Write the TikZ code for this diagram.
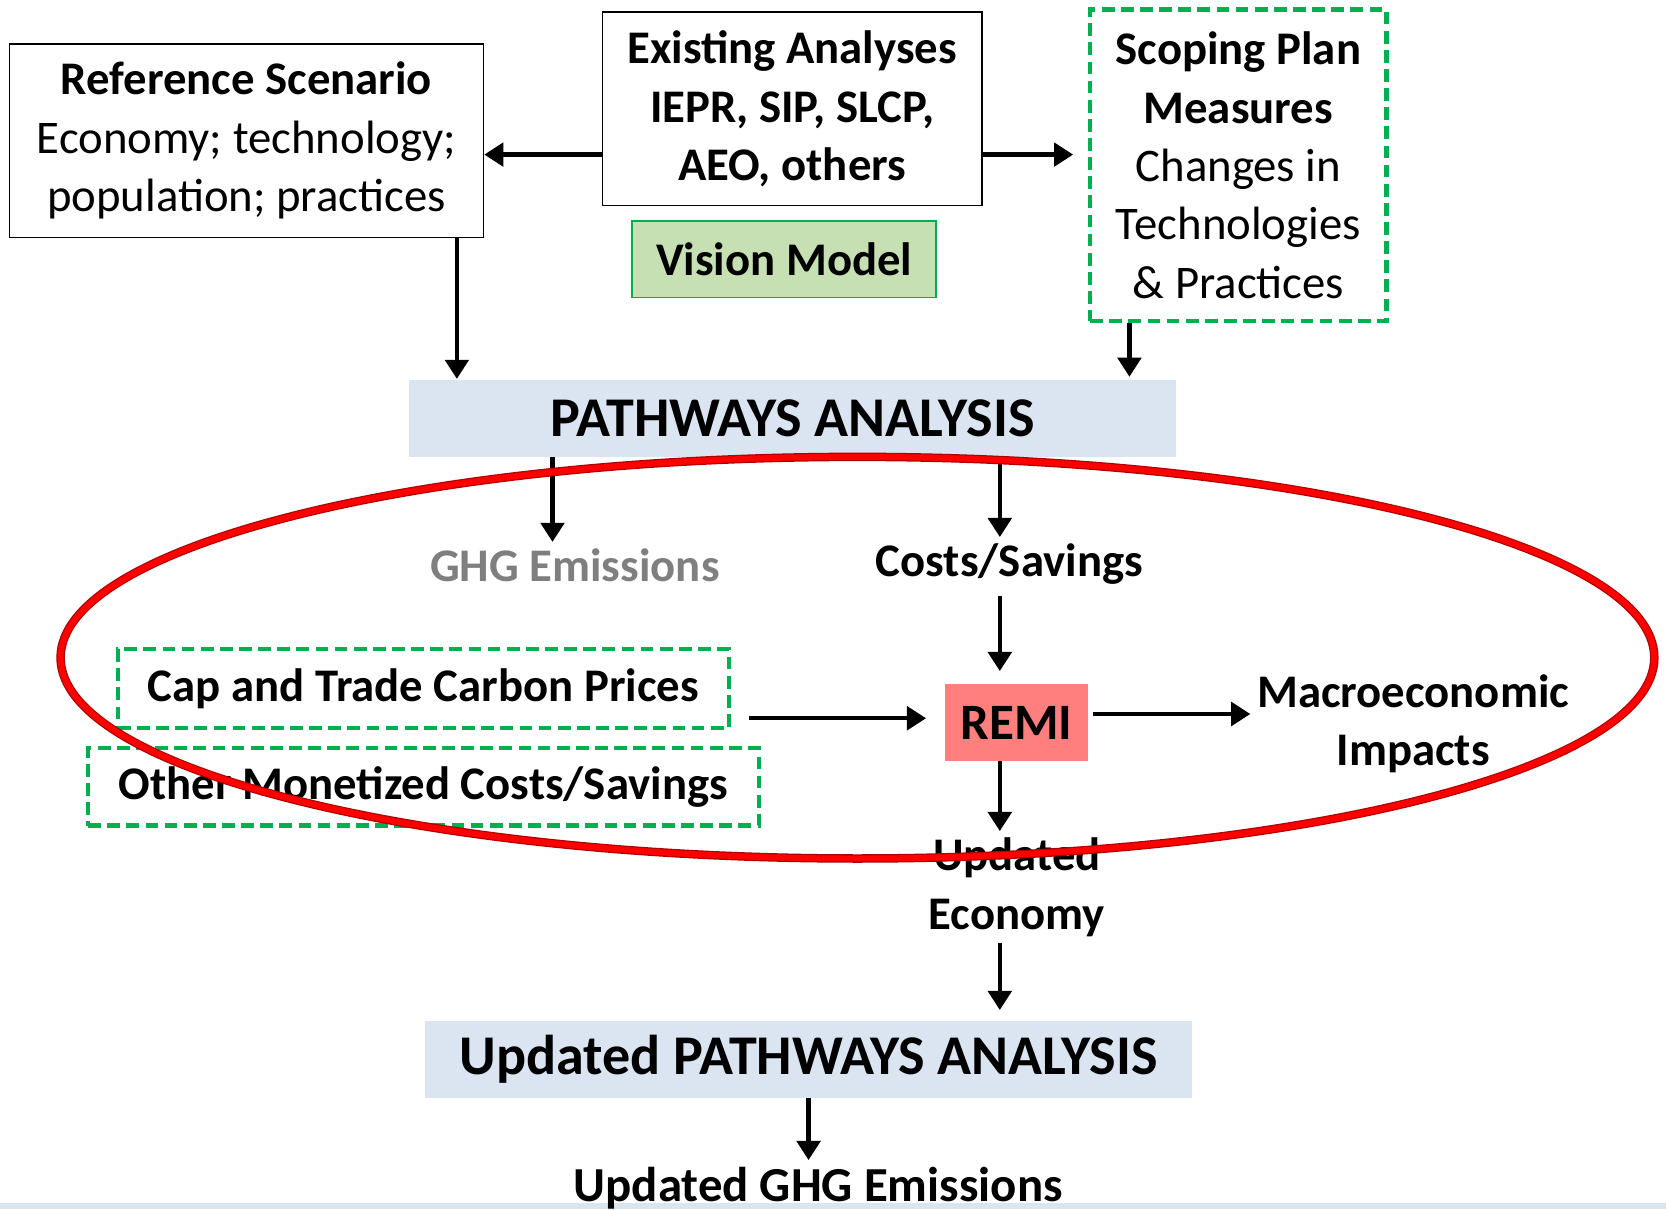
\documentclass[tikz,border=0pt]{standalone}
\usepackage{fontspec}
\setmainfont{Carlito}
\usetikzlibrary{arrows.meta}
\definecolor{planGreen}{HTML}{00B050}
\definecolor{visionFill}{HTML}{C6E0B4}
\definecolor{pathBlue}{HTML}{DBE5F1}
\definecolor{remiRed}{HTML}{FF7F7F}
\definecolor{ghgGray}{HTML}{7F7F7F}
\definecolor{ringDark}{HTML}{B00000}
\begin{document}
\begin{tikzpicture}[x=0.5pt,y=-0.5pt,
    txt/.style={font=\fontsize{22}{27.5}\selectfont, align=center, inner sep=3pt},
    plainbox/.style={txt, draw, line width=0.8pt, inner sep=0pt},
    planbox/.style={txt, draw=planGreen, line width=2pt, dash pattern=on 6pt off 3pt, inner sep=0pt},
    pathbox/.style={fill=pathBlue, inner sep=0pt, minimum width=361pt, minimum height=36pt,
      font=\fontsize{26.4}{31}\selectfont\bfseries},
    arr/.style={line width=2pt, -{Triangle[length=9pt,width=11pt]}}]
    % background strip
    \useasboundingbox (0,0) rectangle (1568,1138);
    \fill[pathBlue] (0,1132) rectangle (1568,1138);

    % top row
    \node[plainbox, minimum width=223pt, minimum height=91pt] (ref) at (232,132.5)
      {\textbf{Reference Scenario}\\Economy; technology;\\population; practices};
    \node[plainbox, font=\fontsize{22}{27.5}\selectfont\bfseries, minimum width=178.5pt, minimum height=91pt] (exist) at (745.5,102.5)
      {Existing Analyses\\IEPR, SIP, SLCP,\\AEO, others};
    \node[txt, font=\fontsize{22}{27.5}\selectfont\bfseries, fill=visionFill, draw=planGreen, line width=0.8pt,
      inner sep=0pt, minimum width=143pt, minimum height=36pt] (vision) at (738,244) {Vision Model};
    \node[planbox, minimum width=139.5pt, minimum height=146.5pt] (scope) at (1165.5,155.5)
      {\textbf{Scoping Plan}\\\textbf{Measures}\\Changes in\\Technologies\\\& Practices};

    % pathways
    \node[pathbox] (path) at (746,394) {PATHWAYS ANALYSIS};
    \node[txt, font=\fontsize{22}{27.5}\selectfont\bfseries, text=ghgGray] (ghg) at (541,532) {GHG Emissions};
    \node[txt, font=\fontsize{22}{27.5}\selectfont\bfseries] (cost) at (950,531) {Costs/Savings};

    % remi row
    \node[planbox, font=\fontsize{22}{27.5}\selectfont\bfseries, minimum width=287.5pt, minimum height=37pt] (cap) at (398.5,648)
      {Cap and Trade Carbon Prices};
    \node[planbox, font=\fontsize{22}{27.5}\selectfont\bfseries, minimum width=315.5pt, minimum height=36.5pt] (other) at (398.5,740.5)
      {Other Monetized Costs/Savings};
    \node[txt, font=\fontsize{24}{29}\selectfont\bfseries, fill=remiRed, inner sep=0pt,
      minimum width=67.5pt, minimum height=36pt] (remi) at (956.5,680) {REMI};
    \node[txt, font=\fontsize{22}{27.5}\selectfont\bfseries] (macro) at (1330,681) {Macroeconomic\\Impacts};
    \node[txt, font=\fontsize{22}{27.5}\selectfont\bfseries] (econ) at (957,835) {Updated\\Economy};

    % bottom
    \node[pathbox] (upath) at (761,997) {Updated PATHWAYS ANALYSIS};
    \node[txt, font=\fontsize{23}{28}\selectfont\bfseries] (ughg) at (770,1118) {Updated GHG Emissions};

    % connectors
    \draw[arr] ([yshift=-21.5pt]exist.west) -- ([yshift=-21.5pt]exist.west -| ref.east);
    \draw[arr, shorten >=7pt] ([yshift=-21.5pt]exist.east) -- ([yshift=-21.5pt]exist.east -| scope.west);
    \draw[arr, shorten >=0.5pt] ([xshift=99pt]ref.south) -- ([xshift=99pt]ref.south |- path.north);
    \draw[arr, shorten >=1.5pt] ([xshift=-51.25pt]scope.south) -- ([xshift=-51.25pt]scope.south |- path.north);
    \draw[arr] ([xshift=-113pt]path.south) -- ([xshift=-113pt]path.south |- ghg.north);
    \draw[arr] ([xshift=97.5pt]path.south) -- ([xshift=97.5pt]path.south |- cost.north);
    \draw[arr, shorten <=2pt, shorten >=6pt] ([xshift=-7.75pt]remi.north |- cost.south) -- ([xshift=-7.75pt]remi.north);
    \draw[arr, shorten <=8.5pt, shorten >=8.5pt] ([yshift=-14pt]cap.east) -- ([yshift=-14pt]cap.east -| remi.west);
    \draw[arr, shorten <=2pt] ([yshift=4pt]remi.east) -- ([yshift=4pt]remi.east -| macro.west);
    \draw[arr] ([xshift=-7.75pt]remi.south) -- ([xshift=-7.75pt]remi.south |- econ.north);
    \draw[arr, shorten >=5pt] ([xshift=-7.75pt]remi.south |- econ.south) -- ([xshift=-7.75pt]remi.south |- upath.north);
    \draw[arr] (upath.south) -- (upath.south |- ughg.north);

    % red ring
    \draw[ringDark, line width=4pt] (807,619) ellipse [x radius=750, y radius=189];
    \draw[red, line width=2.8pt] (807,619) ellipse [x radius=750, y radius=189];
\end{tikzpicture}
\end{document}
